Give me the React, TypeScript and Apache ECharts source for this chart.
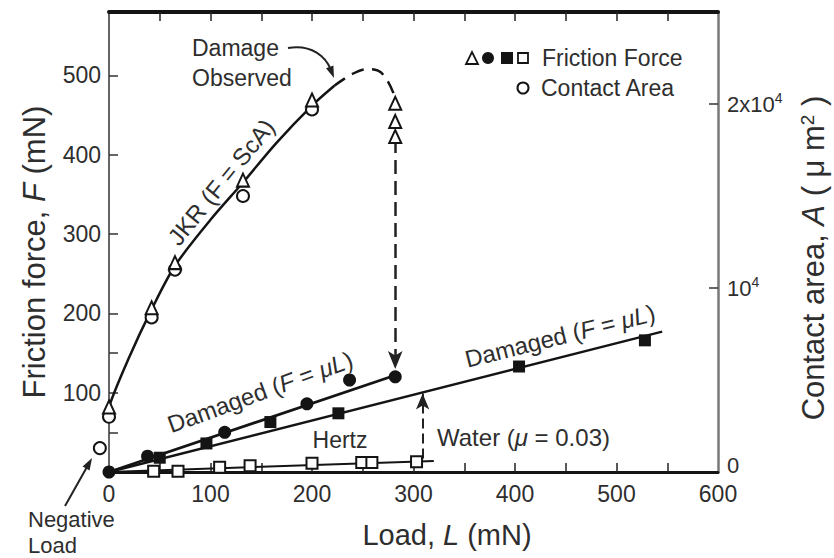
import React, { useEffect, useRef } from "react";
import * as echarts from "echarts";

// ---------- Data ----------
const xTickLabels = [0, 100, 200, 300, 400, 500, 600];
const xTickMarks = [50, 100, 150, 200, 250, 300, 350, 400, 450, 500, 550];
const leftTickLabels = [100, 200, 300, 400, 500];
const leftTickMarks = [50, 100, 150, 200, 300, 400, 500];
const rightTickValues = [0, 10000, 20000];
const rightTickMarks = [10000, 20000];

// JKR fit curve (friction force, mN)
const jkrSolidL = [-9, 0, 20, 42, 65, 100, 132, 165, 200, 222];
const jkrSolidF = [30, 82, 145, 205, 260, 318, 365, 415, 462, 487];
const jkrDashL = [222, 240, 255, 265, 275, 283];
const jkrDashF = [487, 502, 508, 506, 492, 468];

// Damaged (F = μL) fit lines and Hertz line
const damaged1FitL = [0, 282];
const damaged1FitF = [0, 122];
const damaged2FitL = [0, 545];
const damaged2FitF = [0, 177];
const hertzFitL = [0, 320];
const hertzFitF = [0, 14];

// Friction force markers
const triangleL = [0, 42, 65, 132, 200, 282, 282, 282];
const triangleF = [82, 207, 264, 368, 469, 465, 442, 423];
const filledCircleL = [0, 38, 114, 195, 237, 282];
const filledCircleF = [0, 20, 50, 86, 116, 120];
const filledSquareL = [50, 96, 159, 226, 404, 528];
const filledSquareF = [18, 36, 63, 74, 133, 166];
const openSquareL = [44, 68, 109, 139, 200, 249, 259, 303];
const openSquareF = [1, 1, 6, 8, 11, 12, 12, 13];

// Contact area markers (μm²)
const areaL = [-9, 0, 42, 65, 132, 200];
const areaA = [1300, 3000, 8400, 11000, 15000, 19700];

// Arrows (data coordinates)
const damageArrowL = 282;
const damageArrowF = [420, 130];
const waterArrowL = 309;
const waterArrowF = [17, 99];

const zip = (a: number[], b: number[]) => a.map((v, i) => [v, b[i]]);

const FONT = "'Liberation Sans', Arial, Helvetica, sans-serif";
const INK = "#141414";
const TXT = "#2e2e2e";

export default function App() {
  const ref = useRef<HTMLDivElement>(null);

  useEffect(() => {
    if (!ref.current) return;
    const chart = echarts.init(ref.current, undefined, { renderer: "svg" });

    const t = (
      x: number,
      y: number,
      text: string,
      size: number,
      opts: any = {}
    ) => ({
      type: "text",
      x,
      y,
      rotation: opts.rotation || 0,
      silent: true,
      style: {
        text,
        fontSize: size,
        fontFamily: FONT,
        fill: TXT,
        align: opts.align || "center",
        verticalAlign: "middle",
        rich: opts.rich,
      },
    });

    const richItal = (size: number) => ({
      n: { fontSize: size, fontFamily: FONT, fill: TXT, color: TXT },
      i: { fontSize: size, fontFamily: FONT, fontStyle: "italic", fill: TXT, color: TXT },
      s: { fontSize: Math.round(size * 0.6), fontFamily: FONT, color: TXT, padding: [0, 0, 12, 0] },
    });

    const deg = (d: number) => (d * Math.PI) / 180;

    const option: any = {
      animation: false,
      backgroundColor: "#fff",
      grid: { left: 109, right: 116, top: 12, bottom: 86, outerBoundsMode: "none" },
      xAxis: [
        {
          type: "value",
          position: "bottom",
          min: 0,
          max: 600,
          axisLine: { show: true, onZero: false, lineStyle: { color: INK, width: 3 } },
          axisTick: { show: true, inside: true, length: 9, customValues: xTickMarks, lineStyle: { color: "#222", width: 1.5 } },
          axisLabel: { customValues: xTickLabels, fontSize: 23, color: TXT, fontFamily: FONT, margin: 10 },
          splitLine: { show: false },
        },
        {
          type: "value",
          position: "top",
          min: 0,
          max: 600,
          axisLine: { show: true, onZero: false, lineStyle: { color: INK, width: 4 } },
          axisTick: { show: true, inside: true, length: 9, customValues: xTickMarks, lineStyle: { color: "#222", width: 1.5 } },
          axisLabel: { show: false },
          splitLine: { show: false },
        },
      ],
      yAxis: [
        {
          type: "value",
          position: "left",
          min: 0,
          max: 580,
          axisLine: { show: true, onZero: false, lineStyle: { color: "#666", width: 2 } },
          axisTick: { show: true, inside: true, length: 9, customValues: leftTickMarks, lineStyle: { color: "#333", width: 1.5 } },
          axisLabel: { customValues: leftTickLabels, fontSize: 23, color: TXT, fontFamily: FONT, margin: 8 },
          splitLine: { show: false },
        },
        {
          type: "value",
          position: "right",
          min: 0,
          max: 25000,
          axisLine: { show: true, onZero: false, lineStyle: { color: "#777", width: 2.5 } },
          axisTick: { show: true, inside: true, length: 9, customValues: rightTickMarks, lineStyle: { color: "#333", width: 1.5 } },
          axisLabel: {
            customValues: rightTickValues,
            margin: 9,
            color: TXT,
            fontFamily: FONT,
            fontSize: 22,
            formatter: (v: number) =>
              v === 0 ? "{z|0}" : v === 10000 ? "{n|10}{s|4}" : "{n|2x10}{s|4}",
            rich: {
              z: { fontSize: 22, fontFamily: FONT, color: TXT, padding: [0, 0, 14, 0] },
              n: { fontSize: 22, fontFamily: FONT, color: TXT },
              s: { fontSize: 14, fontFamily: FONT, color: TXT, padding: [0, 0, 12, 0] },
            },
          },
          splitLine: { show: false },
        },
      ],
      series: [
        {
          name: "JKR fit",
          type: "line",
          data: zip(jkrSolidL, jkrSolidF),
          smooth: 0.3,
          symbol: "none",
          clip: false,
          lineStyle: { color: INK, width: 2.5 },
          z: 2,
          silent: true,
        },
        {
          name: "JKR dashed",
          type: "line",
          data: zip(jkrDashL, jkrDashF),
          smooth: 0.4,
          symbol: "none",
          lineStyle: { color: INK, width: 2.5, type: [13, 8] },
          z: 2,
          silent: true,
        },
        {
          name: "Damaged 1",
          type: "line",
          data: zip(damaged1FitL, damaged1FitF),
          symbol: "none",
          lineStyle: { color: INK, width: 2.8 },
          z: 2,
          silent: true,
          markLine: {
            silent: true,
            symbol: ["none", "arrow"],
            symbolSize: [11, 18],
            label: { show: false },
            lineStyle: { color: "#222", width: 2.5, type: [14, 7] },
            data: [[{ coord: [damageArrowL, damageArrowF[0]] }, { coord: [damageArrowL, damageArrowF[1]] }]],
          },
        },
        {
          name: "Damaged 2",
          type: "line",
          data: zip(damaged2FitL, damaged2FitF),
          symbol: "none",
          lineStyle: { color: INK, width: 2.5 },
          z: 2,
          silent: true,
          markLine: {
            silent: true,
            symbol: ["none", "arrow"],
            symbolSize: [10, 16],
            label: { show: false },
            lineStyle: { color: "#222", width: 2, type: [10, 5] },
            data: [[{ coord: [waterArrowL, waterArrowF[0]] }, { coord: [waterArrowL, waterArrowF[1]] }]],
          },
        },
        {
          name: "Hertz",
          type: "line",
          data: zip(hertzFitL, hertzFitF),
          symbol: "none",
          lineStyle: { color: INK, width: 2 },
          z: 2,
          silent: true,
        },
        {
          name: "Open squares",
          type: "scatter",
          data: zip(openSquareL, openSquareF),
          symbol: "rect",
          symbolSize: 11,
          itemStyle: { color: "#fff", borderColor: INK, borderWidth: 2, opacity: 1 },
          z: 5,
        },
        {
          name: "Filled squares",
          type: "scatter",
          data: zip(filledSquareL, filledSquareF),
          symbol: "rect",
          symbolSize: 12,
          itemStyle: { color: INK, opacity: 1 },
          z: 5,
        },
        {
          name: "Filled circles",
          type: "scatter",
          data: zip(filledCircleL, filledCircleF),
          symbol: "circle",
          symbolSize: 13,
          itemStyle: { color: INK, opacity: 1 },
          z: 5,
        },
        {
          name: "Contact area",
          type: "scatter",
          yAxisIndex: 1,
          data: zip(areaL, areaA),
          symbol: "circle",
          symbolSize: 12,
          clip: false,
          itemStyle: { color: "#fff", borderColor: INK, borderWidth: 2, opacity: 1 },
          z: 5,
        },
        {
          name: "Triangles",
          type: "scatter",
          data: zip(triangleL, triangleF),
          symbol: "triangle",
          symbolSize: [12, 13],
          itemStyle: { color: "#fff", borderColor: INK, borderWidth: 2, opacity: 1 },
          z: 6,
        },
      ],
      graphic: [
        // Axis titles
        t(34, 252, "{n|Friction force, }{i|F}{n| (mN)}", 31, { rotation: Math.PI / 2, rich: richItal(31) }),
        t(447, 535, "{n|Load, }{i|L}{n| (mN)}", 29, { rich: richItal(29) }),
        t(813, 258, "{n|Contact area, }{i|A}{n| ( μ m}{s|2}{n| )}", 31, { rotation: Math.PI / 2, rich: richItal(31) }),

        // Curve annotations
        t(221, 182, "JKR (F = ScA)", 24, { rotation: deg(51) }),
        t(260, 392, "{n|Damaged (}{i|F}{n| = }{i|μL}{n|)}", 24, { rotation: deg(20), rich: richItal(24) }),
        t(560, 336, "{n|Damaged (}{i|F}{n| = }{i|μL}{n|)}", 24, { rotation: deg(14), rich: richItal(24) }),
        t(340, 440, "Hertz", 23),
        t(437, 437, "{n|Water (}{i|μ}{n| = 0.03)}", 24, { align: "left", rich: richItal(24) }),
        t(192, 48, "Damage", 23, { align: "left" }),
        t(192, 78, "Observed", 23, { align: "left" }),
        t(28, 519, "Negative", 22, { align: "left" }),
        t(28, 545, "Load", 22, { align: "left" }),

        // Damage Observed arrow
        {
          type: "bezierCurve",
          silent: true,
          shape: { x1: 288, y1: 48, cpx1: 312, cpy1: 44, cpx2: 326, cpy2: 57, x2: 331, y2: 70 },
          style: { stroke: "#222", lineWidth: 2, fill: "none" },
        },
        {
          type: "polygon",
          silent: true,
          shape: { points: [[334, 78], [333.4, 65.4], [326, 68.2]] },
          style: { fill: "#222" },
        },
        // Negative load arrow
        {
          type: "line",
          silent: true,
          shape: { x1: 65, y1: 506, x2: 87, y2: 467 },
          style: { stroke: "#222", lineWidth: 2 },
        },
        {
          type: "polygon",
          silent: true,
          shape: { points: [[92, 458], [89.6, 470.4], [82.6, 466.4]] },
          style: { fill: "#222" },
        },

        // Legend
        {
          type: "polygon",
          silent: true,
          shape: { points: [[466, 64], [478, 64], [472, 52]] },
          style: { fill: "#fff", stroke: INK, lineWidth: 1.8 },
        },
        { type: "circle", silent: true, shape: { cx: 488, cy: 58, r: 6 }, style: { fill: INK } },
        { type: "rect", silent: true, shape: { x: 501, y: 52, width: 12, height: 12 }, style: { fill: INK } },
        {
          type: "rect",
          silent: true,
          shape: { x: 518, y: 53, width: 10, height: 10 },
          style: { fill: "#fff", stroke: INK, lineWidth: 1.8 },
        },
        t(542, 58, "Friction Force", 23, { align: "left" }),
        {
          type: "circle",
          silent: true,
          shape: { cx: 523, cy: 88, r: 5.5 },
          style: { fill: "#fff", stroke: INK, lineWidth: 2 },
        },
        t(541, 88, "Contact Area", 23, { align: "left" }),
      ],
    };

    chart.setOption(option);
    return () => chart.dispose();
  }, []);

  return (
    <div
      ref={ref}
      style={{ position: "absolute", left: 0, top: 0, width: 834, height: 558, background: "#fff" }}
    />
  );
}
